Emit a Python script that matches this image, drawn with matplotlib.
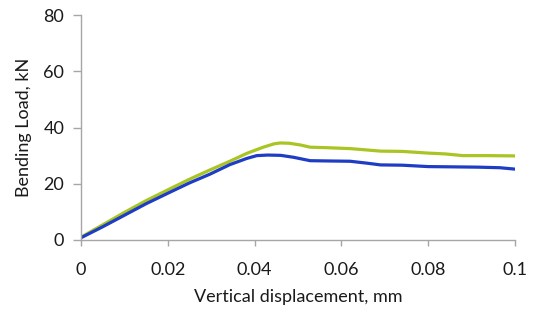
import matplotlib
matplotlib.use("Agg")
import matplotlib.pyplot as plt

# Series
x_green = [0.0, 0.005, 0.010, 0.015, 0.0205, 0.025, 0.0297, 0.0343, 0.0382, 0.042, 0.0445, 0.0459, 0.048, 0.0505, 0.0528, 0.057, 0.062, 0.066, 0.069, 0.074, 0.080, 0.084, 0.088, 0.094, 0.100]
y_green = [1.0, 5.4, 9.8, 14.0, 18.2, 21.6, 24.9, 28.0, 30.8, 33.0, 34.2, 34.5, 34.4, 33.8, 33.0, 32.8, 32.5, 32.0, 31.6, 31.5, 30.9, 30.6, 30.0, 30.0, 29.9]

x_blue = [0.0, 0.005, 0.010, 0.015, 0.0205, 0.025, 0.0297, 0.0343, 0.0382, 0.0405, 0.043, 0.046, 0.049, 0.0528, 0.057, 0.062, 0.066, 0.069, 0.074, 0.080, 0.086, 0.0915, 0.0965, 0.100]
y_blue = [0.8, 4.7, 8.8, 12.9, 17.0, 20.3, 23.4, 26.8, 29.0, 30.0, 30.2, 30.1, 29.4, 28.2, 28.1, 28.0, 27.3, 26.7, 26.6, 26.1, 26.0, 25.9, 25.7, 25.2]

x_ticks = [0, 0.02, 0.04, 0.06, 0.08, 0.1]
x_ticklabels = ["0", "0.02", "0.04", "0.06", "0.08", "0.1"]
y_ticks = [0, 20, 40, 60, 80]

plt.rcParams['font.family'] = ['Lato', 'DejaVu Sans']

fig = plt.figure(figsize=(5.35, 3.28), dpi=100)
ax = fig.add_axes([81/535, 1-240/328, (515-81)/535, (240-15)/328])

ax.plot(x_green, y_green, color="#a9c523", lw=2.3, solid_capstyle="round")
ax.plot(x_blue, y_blue, color="#1e3cc4", lw=2.3, solid_capstyle="round")

ax.set_xlim(0, 0.1)
ax.set_ylim(0, 80)
ax.set_xticks(x_ticks)
ax.set_xticklabels(x_ticklabels)
ax.set_yticks(y_ticks)

for s in ["top", "right"]:
    ax.spines[s].set_visible(False)
for s in ["left", "bottom"]:
    ax.spines[s].set_color("#a6a6a6")
    ax.spines[s].set_linewidth(1.0)

ax.tick_params(axis="y", direction="out", length=6, width=1, color="#a6a6a6", pad=6, labelsize=13, labelcolor="#1a1a1a")
ax.tick_params(axis="x", direction="out", length=4, width=1, color="#a6a6a6", pad=12, labelsize=13, labelcolor="#1a1a1a")

ax.set_xlabel("Vertical displacement, mm", fontsize=13, labelpad=8, color="#1a1a1a")
ax.set_ylabel("Bending Load, kN", fontsize=13, labelpad=8, color="#1a1a1a")

fig.savefig("out.png", dpi=100, facecolor="white")
